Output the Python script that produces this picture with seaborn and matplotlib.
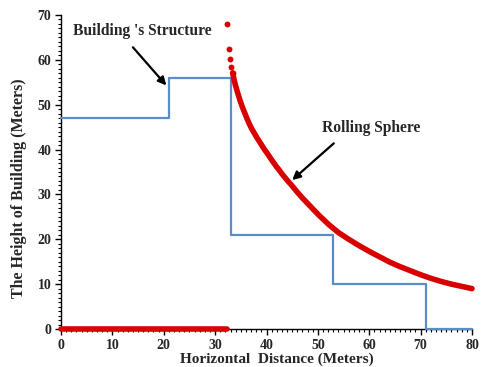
import matplotlib
matplotlib.use("Agg")
import matplotlib.pyplot as plt
import seaborn as sns
from matplotlib.ticker import MultipleLocator

# Building outline (stepped profile), meters
building_x = [0, 21, 21, 33, 33, 53, 53, 71, 71, 80]
building_y = [47, 47, 56, 56, 21, 21, 10, 10, 0, 0]

# Rolling sphere: points on the ground before the sphere touches the roof
ground_x = [0, 32.4]
ground_y = [0, 0]

# Rolling sphere: sparse points near the top of the arc
sphere_top_x = [32.4, 32.65, 32.9, 33.15, 33.4]
sphere_top_y = [68.0, 62.5, 60.2, 58.5, 57.1]

# Rolling sphere: continuous part of the arc
sphere_x = [33.4, 33.65, 33.9, 34.15, 34.4, 34.65, 34.9, 35.2, 35.5, 36, 36.5, 37,
            37.5, 38, 38.5, 39, 39.5, 40, 40.5, 41, 41.5, 42, 42.5, 43, 43.5, 44,
            44.5, 45, 45.5, 46, 47, 48, 50, 52, 54, 56, 58, 60, 62,
            64, 66, 68, 70, 72, 74, 76, 78, 80]
sphere_y = [57.1, 55.8, 54.6, 53.6, 52.6, 51.7, 50.8, 49.8, 48.9, 47.5, 46.1, 44.9,
            43.9, 42.9, 42.0, 41.1, 40.2, 39.4, 38.55, 37.7, 36.9, 36.1, 35.4, 34.6,
            33.9, 33.2, 32.55, 31.9, 31.2, 30.5, 29.2, 28.0, 25.6, 23.4,
            21.5, 20.0, 18.6, 17.3, 16.1, 14.9, 13.9, 13.0, 12.1, 11.3, 10.6, 10.0,
            9.5, 9.0]

x_ticks = [0, 10, 20, 30, 40, 50, 60, 70, 80]
y_ticks = [0, 10, 20, 30, 40, 50, 60, 70]

BLUE = "#5B8BC9"
RED = "#D80000"

sns.set_style("ticks")
plt.rcParams['font.family'] = ['Liberation Serif', 'DejaVu Serif']
plt.rcParams['font.weight'] = 'bold'

fig = plt.figure(figsize=(4.82, 3.67), dpi=100)
ax = fig.add_axes([61 / 482, 1 - 329 / 367, (472 - 61) / 482, (329 - 15) / 367])

sns.lineplot(x=building_x, y=building_y, sort=False, estimator=None, color=BLUE,
             lw=1.6, clip_on=False, zorder=4, ax=ax)
sns.lineplot(x=ground_x, y=ground_y, sort=False, estimator=None, color=RED,
             lw=4.0, solid_capstyle='round', clip_on=False, zorder=5, ax=ax)
sns.lineplot(x=sphere_x, y=sphere_y, sort=False, estimator=None, color=RED,
             lw=4.0, solid_capstyle='round', solid_joinstyle='round',
             clip_on=False, zorder=5, ax=ax)
sns.scatterplot(x=sphere_top_x, y=sphere_top_y, color=RED, s=18, linewidth=0,
                clip_on=False, zorder=5, ax=ax)

ax.set_xlim(0, 80)
ax.set_ylim(0, 70)
ax.set_xticks(x_ticks)
ax.set_yticks(y_ticks)
ax.xaxis.set_minor_locator(MultipleLocator(1))
ax.yaxis.set_minor_locator(MultipleLocator(1))
ax.set_xticklabels([str(t) for t in x_ticks], fontsize=10, fontweight='bold')
ax.set_yticklabels([str(t) for t in y_ticks], fontsize=10, fontweight='bold')
ax.tick_params(which='major', direction='out', length=4, width=1, color='black', pad=3)
ax.tick_params(which='minor', direction='out', length=2.5, width=0.8, color='black')

sns.despine(ax=ax)
for side in ('left', 'bottom'):
    ax.spines[side].set_color('black')
    ax.spines[side].set_linewidth(1)

ax.set_xlabel("Horizontal  Distance (Meters)", fontsize=11, fontweight='bold')
ax.set_ylabel("The Height of Building (Meters)", fontsize=11.5, fontweight='bold')
ax.xaxis.set_label_coords(0.526, -0.075)
ax.yaxis.set_label_coords(-0.083, 0.45)

ax.text(15.9, 66.4, "Building 's Structure", fontsize=11.2, fontweight='bold',
        ha='center', va='center')
ax.annotate("", xy=(20.5, 54.3), xytext=(14.0, 62.8),
            arrowprops=dict(arrowstyle='-|>', color='black', lw=1.6,
                            mutation_scale=12, shrinkA=0, shrinkB=0))

ax.text(60.3, 44.8, "Rolling Sphere", fontsize=11.2, fontweight='bold',
        ha='center', va='center')
ax.annotate("", xy=(45.0, 33.2), xytext=(53.1, 41.4),
            arrowprops=dict(arrowstyle='-|>', color='black', lw=1.6,
                            mutation_scale=12, shrinkA=0, shrinkB=0))

fig.savefig("out.png", dpi=100, facecolor='white')
